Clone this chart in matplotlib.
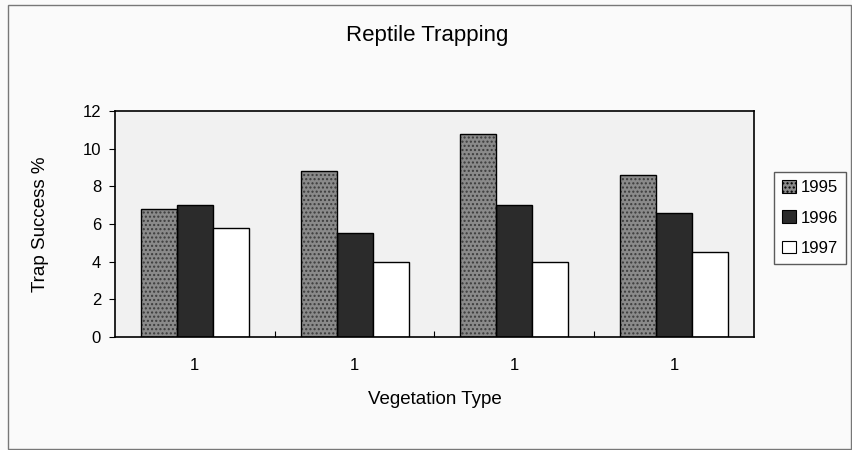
import matplotlib
matplotlib.use("Agg")
import matplotlib.pyplot as plt
import numpy as np
from matplotlib.patches import Rectangle

categories = ["1", "1", "1", "1"]
years = ["1995", "1996", "1997"]
v1995 = [6.8, 8.8, 10.8, 8.6]
v1996 = [7.0, 5.5, 7.0, 6.6]
v1997 = [5.8, 4.0, 4.0, 4.5]
yticks = [0, 2, 4, 6, 8, 10, 12]

plt.rcParams['font.family'] = ['Liberation Sans', 'DejaVu Sans']

fig = plt.figure(figsize=(8.53, 4.5), dpi=100, facecolor='#fafafa')
ax = fig.add_axes([115/853, 1-337/450, 639/853, 226/450])
ax.set_facecolor('#f1f1f1')

x = np.arange(len(categories))
w = 0.225
series = [v1995, v1996, v1997]
faces = ['#8a8a8a', '#2b2b2b', 'white']
hatches = ['....', None, None]
plt.rcParams['hatch.color'] = '#3c3c3c'
for i, (vals, fc, h) in enumerate(zip(series, faces, hatches)):
    pos = x + (i - 1) * w
    if h:
        ax.bar(pos, vals, w, color=fc, hatch=h, edgecolor='#3c3c3c', linewidth=0, zorder=2)
        ax.bar(pos, vals, w, fill=False, edgecolor='black', linewidth=1.0, zorder=3)
    else:
        ax.bar(pos, vals, w, color=fc, edgecolor='black', linewidth=1.0, zorder=2)

ax.set_xlim(-0.5, 3.5)
ax.set_ylim(0, 12)
ax.set_yticks(yticks)
ax.tick_params(axis='y', direction='out', length=4, labelsize=12, width=0.8, pad=6)
ax.set_xticks([0.5, 1.5, 2.5])
ax.set_xticklabels([])
ax.tick_params(axis='x', which='major', direction='in', length=4, width=0.8)
ax.set_xticks(x, minor=True)
ax.set_xticklabels(categories, minor=True)
ax.tick_params(axis='x', which='minor', length=0, labelsize=12, pad=15)
for s in ax.spines.values():
    s.set_linewidth(1.2)
    s.set_color('black')

ax.set_xlabel("Vegetation Type", fontsize=13.5, labelpad=13)
ax.set_ylabel("Trap Success %", fontsize=13.5, labelpad=24)
fig.text(427/853, 1-35/450, "Reptile Trapping", ha='center', va='center', fontsize=16)

handles = [Rectangle((0, 0), 1, 1, facecolor=faces[0], hatch='....', edgecolor='black', linewidth=0.8),
           Rectangle((0, 0), 1, 1, facecolor=faces[1], edgecolor='black', linewidth=0.8),
           Rectangle((0, 0), 1, 1, facecolor=faces[2], edgecolor='black', linewidth=0.8)]
leg = fig.legend(handles, years, loc='center', bbox_to_anchor=(810/853, 1-218/450),
                 fontsize=12, frameon=True, fancybox=False, edgecolor='#333333',
                 handlelength=0.8, handleheight=0.8, handletextpad=0.3,
                 labelspacing=0.9, borderpad=0.5, borderaxespad=0)
leg.get_frame().set_linewidth(1.0)

fig.patches.append(Rectangle((8/853, 1/450), 843/853, 444/450, transform=fig.transFigure,
                             fill=False, edgecolor='#777777', linewidth=1.0))

fig.savefig("out.png", dpi=100, facecolor=fig.get_facecolor())
